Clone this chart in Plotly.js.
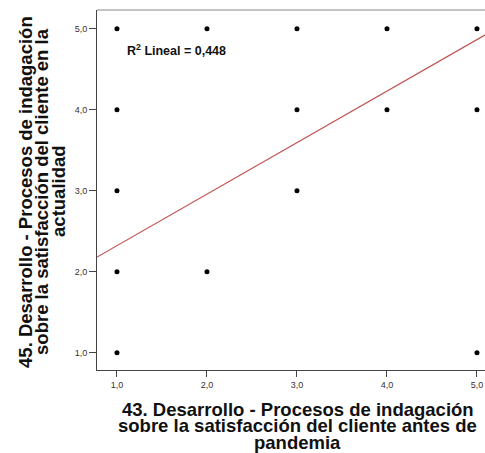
<!DOCTYPE html>
<html><head><meta charset="utf-8">
<script src="https://cdn.plot.ly/plotly-3.0.1.min.js"></script>
<style>html,body{margin:0;padding:0;background:#fff}#c{width:485px;height:453px}</style>
</head><body><div id="c"></div>
<script>
const xVals = [1,2,3,4,5, 1,3,4,5, 1,3, 1,2, 1,5];
const yVals = [5,5,5,5,5, 4,4,4,4, 3,3, 2,2, 1,1];
const fitIntercept = 1.685;
const fitSlope = 0.636;
const r2Label = "R<sup>2</sup> Lineal = 0,448";
const xTitleLines = ["43. Desarrollo - Procesos de indagación", "sobre la satisfacción del cliente antes de", "pandemia"];
const yTitleLines = ["45. Desarrollo - Procesos de indagación", "sobre la satisfacción del cliente en la", "actualidad"];
const tickVals = [1,2,3,4,5];

const xr = [0.778, 5.089];
const fitX = [xr[0], 5.222];
const fitY = fitX.map(x => fitIntercept + fitSlope * x);
const F = "Liberation Sans, Arial, sans-serif";

const xLineY = [-0.110, -0.154, -0.201];
const yLineX = [-0.1843, -0.1430, -0.0992];
const anns = [
  {text: '<b>' + r2Label + '</b>', xref: 'paper', yref: 'paper', x: 0.073, y: 0.889, xanchor: 'left', yanchor: 'middle',
   showarrow: false, font: {size: 12.5, color: '#111', family: F}}
];
xTitleLines.forEach((t, i) => anns.push({text: '<b>' + t + '</b>', xref: 'paper', yref: 'paper', x: 0.5168, y: xLineY[i],
  xanchor: 'center', yanchor: 'middle', showarrow: false, font: {size: 18.5, color: '#111', family: F}}));
yTitleLines.forEach((t, i) => anns.push({text: '<b>' + t + '</b>', xref: 'paper', yref: 'paper', x: yLineX[i], y: 0.496,
  xanchor: 'center', yanchor: 'middle', textangle: -90, showarrow: false, font: {size: 18.5, color: '#111', family: F}}));

Plotly.newPlot('c', [
  {x: fitX, y: fitY, mode: 'lines', line: {color: '#c0504e', width: 1.2}, hoverinfo: 'skip'},
  {x: xVals, y: yVals, mode: 'markers', marker: {color: '#000', size: 5}}
], {
  width: 485, height: 453,
  margin: {l: 97, r: 0, t: 10, b: 83},
  showlegend: false,
  separators: ',.',
  paper_bgcolor: '#fff', plot_bgcolor: '#fff',
  font: {family: F, color: '#222'},
  xaxis: {range: xr, tickvals: tickVals, tickformat: '.1f', ticks: 'outside', ticklen: 6, tickcolor: '#444',
          showgrid: false, zeroline: false, showline: true, linecolor: '#444', linewidth: 1,
          tickfont: {size: 9, color: '#333', family: F}},
  yaxis: {range: [0.786, 5.23], tickvals: tickVals, tickformat: '.1f', ticks: 'outside', ticklen: 7, tickcolor: '#444',
          showgrid: false, zeroline: false, showline: true, linecolor: '#444', linewidth: 1,
          tickfont: {size: 9, color: '#333', family: F}},
  shapes: [{type: 'line', xref: 'paper', yref: 'paper', x0: 0, x1: 1, y0: 1, y1: 1, line: {color: '#888', width: 1}}],
  annotations: anns
}, {displayModeBar: false, staticPlot: true});
</script></body></html>
